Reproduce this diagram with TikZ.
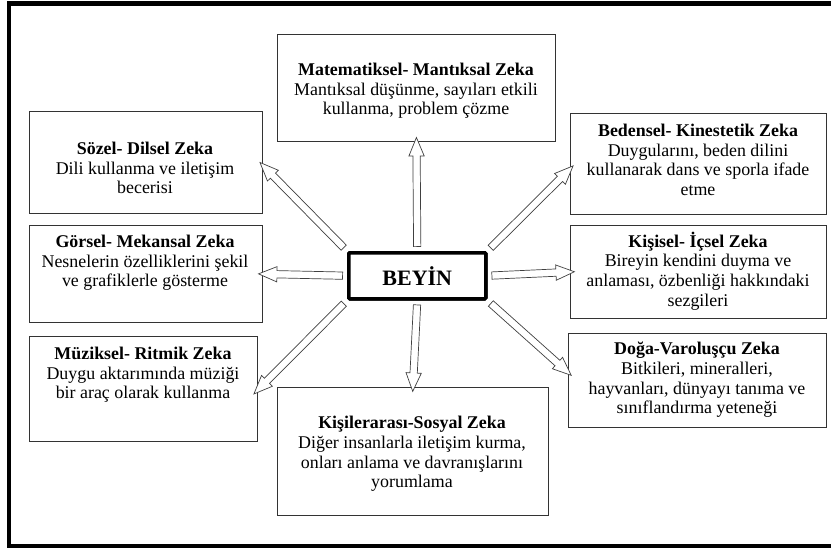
\documentclass[tikz,border=0pt]{standalone}
\usepackage{fontspec}
\setmainfont{Liberation Serif}
\usetikzlibrary{calc,shapes.arrows}
\tikzset{
  box/.style={draw=black!80, line width=0.9pt, fill=white, anchor=north west, inner sep=0pt},
  txt/.style={align=center, text=black, font=\fontsize{17.9}{19.6}\selectfont, inner sep=0pt},
  bigarrow/.style={single arrow, draw=black!75, line width=0.7pt, fill=white, inner xsep=0pt, inner ysep=3.3pt,
    minimum width=15pt, single arrow head extend=4pt, single arrow tip angle=45},
  brain/.style={draw=black, line width=3.5pt, fill=white, rounded corners=1pt, anchor=north west,
    inner sep=0pt, font=\fontsize{22}{26}\selectfont\bfseries}
}
\newcommand\blockarrow[2]{%
  \path let \p1=($(#2)-(#1)$), \n1={veclen(\x1,\y1)}, \n2={atan2(\y1,\x1)} in
    node[bigarrow, minimum height=\n1, rotate=\n2] at ($(#1)!0.5!(#2)$) {};}
\begin{document}
\begin{tikzpicture}[x=1pt,y=-1pt]
\useasboundingbox (0,0) rectangle (831,552);
\fill[white] (0,0) rectangle (831,552);
% outer frame
\draw[line width=4.5pt] (835,3.5) -- (9,3.5) -- (9,546) -- (835,546);

% boxes
\node[box, minimum width=278pt, minimum height=107pt] (mat) at (277,34) {};
\node[box, minimum width=233pt, minimum height=102pt] (soz) at (29,111) {};
\node[box, minimum width=233pt, minimum height=97pt] (gor) at (29,225) {};
\node[box, minimum width=228pt, minimum height=105pt] (muz) at (29,336) {};
\node[box, minimum width=256pt, minimum height=101pt] (bed) at (570,113) {};
\node[box, minimum width=256pt, minimum height=93pt] (kis) at (570,225) {};
\node[box, minimum width=258pt, minimum height=94pt] (dog) at (568,333) {};
\node[box, minimum width=271pt, minimum height=128pt] (kisi) at (277,387) {};
\node[brain, minimum width=137pt, minimum height=46pt] (beyin) at (347,251) {};

% arrows
\blockarrow{beyin.north}{mat.south}
\blockarrow{beyin.south}{kisi.north}
\blockarrow{beyin.west}{gor.east}
\blockarrow{beyin.east}{kis.west}
\coordinate (sozend) at ($(soz.east)+(0,3)$);
\coordinate (bedend) at ($(bed.west)+(0,5)$);
\coordinate (dogend) at ($(dog.west)+(0,-8)$);
\coordinate (muzend) at ($(muz.east)+(-1,2)$);
\blockarrow{beyin.north west}{sozend}
\blockarrow{beyin.south west}{muzend}
\blockarrow{beyin.north east}{bedend}
\blockarrow{beyin.south east}{dogend}

% redraw brain on top
\node[brain, minimum width=137pt, minimum height=46pt] (beyin2) at (347,251) {BEYİN};

% texts
\node[txt] (matt) at (416,91) {\textbf{Matematiksel- Mantıksal Zeka}\\Mantıksal düşünme, sayıları etkili\\kullanma, problem çözme};
\node[txt] (sozt) at (145,168) {\textbf{Sözel- Dilsel Zeka}\\Dili kullanma ve iletişim\\becerisi};
\node[txt] (gort) at (145,263) {\textbf{Görsel- Mekansal Zeka}\\Nesnelerin özelliklerini şekil\\ve grafiklerle gösterme};
\node[txt] (muzt) at (143,375) {\textbf{Müziksel- Ritmik Zeka}\\Duygu aktarımında müziği\\bir araç olarak kullanma};
\node[txt] (bedt) at (698,160) {\textbf{Bedensel- Kinestetik Zeka}\\Duygularını, beden dilini\\kullanarak dans ve sporla ifade\\etme};
\node[txt] (kist) at (698,271) {\textbf{Kişisel- İçsel Zeka}\\Bireyin kendini duyma ve\\anlaması, özbenliği hakkındaki\\sezgileri};
\node[txt] (dogt) at (697,380) {\textbf{Doğa-Varoluşçu Zeka}\\Bitkileri, mineralleri,\\hayvanları, dünyayı tanıma ve\\sınıflandırma yeteneği};
\node[txt] (kisit) at (412,454) {\textbf{Kişilerarası-Sosyal Zeka}\\Diğer insanlarla iletişim kurma,\\onları anlama ve davranışlarını\\yorumlama};
\end{tikzpicture}
\end{document}
